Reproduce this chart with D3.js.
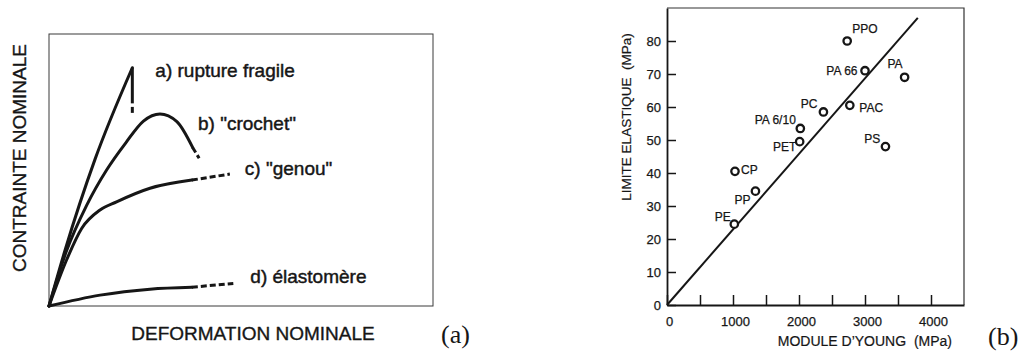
<!DOCTYPE html>
<html><head><meta charset="utf-8">
<script src="https://cdn.jsdelivr.net/npm/d3@7"></script>
<style>
body{margin:0;background:#fff}
svg{display:block}
text{font-family:"Liberation Sans",Arial,Helvetica,sans-serif;fill:#161616;white-space:pre}
</style>
</head><body>
<svg id="chart" width="1023" height="356"></svg>
<script>
// ---------- Panel (a) : schematic stress-strain curves (arbitrary units 0-100) ----------
const curveLabels = ['a) rupture fragile', 'b) "crochet"', 'c) "genou"', 'd) élastomère'];
const curveA      = [[0,0],[4.2,20.6],[12,54],[21.7,87.6]];
const curveADrop  = [[21.7,87.6],[21.7,74.5]];
const curveADash  = [[21.7,73.2],[21.7,71.0]];
const curveB      = [[0,0],[4.5,20],[9.8,37],[15,50],[20,60],[24.6,68],[28.9,70.6],[33.3,67.8],[37.4,58.3]];
const curveBDash  = [[37.4,58.3],[39.1,54.3]];
const curveC      = [[0,0],[4.6,17],[8.5,28.5],[13.3,35.3],[17.6,38.3],[26.3,43.3],[37.2,46.3]];
const curveCDash  = [[37.2,46.3],[47.1,48.5]];
const curveD      = [[0,0],[13.3,4.0],[26.3,6.2],[37.2,6.9]];
const curveDDash  = [[37.2,6.9],[48,8.3]];
const axisTitleAX = 'DEFORMATION NOMINALE';
const axisTitleAY = 'CONTRAINTE NOMINALE';

// ---------- Panel (b) : yield stress vs Young's modulus ----------
const materials   = ['PPO','PA 66','PA','PAC','PC','PA 6/10','PET','PS','CP','PP','PE'];
const modulus     = [2730, 3000, 3600, 2770, 2370, 2020, 2010, 3310, 1030, 1340, 1020];
const yieldStress = [80, 71, 69, 60.5, 58.5, 53.5, 49.5, 48, 40.5, 34.5, 24.5];
const trendX      = [0, 3800];
const trendY      = [0, 87];
const xTicks      = [0,500,1000,1500,2000,2500,3000,3500,4000];
const xTickLabels = ['0','','1000','','2000','','3000','','4000'];
const yTicks      = [0,10,20,30,40,50,60,70,80];
const yTickLabels = ['0','10','20','30','40','50','60','70','80'];
const axisTitleBX = "MODULE D\u2019YOUNG  (MPa)";
const axisTitleBY = 'LIMITE ELASTIQUE  (MPa)';

const svg = d3.select('#chart');
const ink = '#161616';

// ===== Panel (a) =====
const ax = d3.scaleLinear().domain([0,100]).range([49,433]);
const ay = d3.scaleLinear().domain([0,100]).range([306,34]);
const ga = svg.append('g');
ga.append('rect').attr('x',ax(0)).attr('y',ay(100)).attr('width',ax(100)-ax(0)).attr('height',ay(0)-ay(100))
  .attr('fill','none').attr('stroke','#3a3a3a').attr('stroke-width',1);

const lineSmooth = d3.line().x(d=>ax(d[0])).y(d=>ay(d[1])).curve(d3.curveMonotoneX);
const lineStraight = d3.line().x(d=>ax(d[0])).y(d=>ay(d[1]));
[curveA, curveB, curveC, curveD].forEach(c=>{
  ga.append('path').attr('d',lineSmooth(c)).attr('fill','none').attr('stroke',ink)
    .attr('stroke-width',3).attr('stroke-linecap','round').attr('stroke-linejoin','round');
});
ga.append('path').attr('d',lineStraight(curveADrop)).attr('fill','none').attr('stroke',ink).attr('stroke-width',3);
ga.append('path').attr('d',lineStraight(curveADash)).attr('fill','none').attr('stroke',ink).attr('stroke-width',3);
[curveBDash, curveCDash, curveDDash].forEach(c=>{
  ga.append('path').attr('d',lineStraight(c)).attr('fill','none').attr('stroke',ink)
    .attr('stroke-width',3).attr('stroke-dasharray','6,3');
});
// curve labels (placed to the right of each curve's end)
const labelAnchors = [curveA[curveA.length-1], curveB[6], curveCDash[1], curveDDash[1]];
const labelOffsets = [[23,9],[38,16],[15,1],[17,0]];
curveLabels.forEach((t,i)=>{
  ga.append('text').attr('x',ax(labelAnchors[i][0])+labelOffsets[i][0])
    .attr('y',ay(labelAnchors[i][1])+labelOffsets[i][1])
    .attr('font-size',19).attr('stroke',ink).attr('stroke-width',0.45).text(t);
});
ga.append('text').attr('x',(ax(0)+ax(100))/2+12).attr('y',340).attr('text-anchor','middle')
  .attr('font-size',19).attr('stroke',ink).attr('stroke-width',0.35).text(axisTitleAX);
ga.append('text').attr('transform','translate(26,158) rotate(-90)').attr('text-anchor','middle')
  .attr('font-size',19).attr('stroke',ink).attr('stroke-width',0.35).text(axisTitleAY);
svg.append('text').attr('x',441).attr('y',343).attr('font-size',26)
  .style('font-family','"Liberation Serif","Times New Roman",serif').text('(a)');

// ===== Panel (b) =====
const bx = d3.scaleLinear().domain([0,4500]).range([667,964]);
const by = d3.scaleLinear().domain([0,90]).range([305,8]);
const gb = svg.append('g');
// top & right frame
gb.append('path').attr('d',`M${bx(0)},${by(90)}H${bx(4500)}V${by(0)}`).attr('fill','none')
  .attr('stroke','#333').attr('stroke-width',1.2);

const xAxis = d3.axisBottom(bx).tickValues(xTicks).tickSizeInner(-10).tickSizeOuter(0).tickPadding(12)
  .tickFormat((d,i)=>xTickLabels[i]);
const yAxis = d3.axisLeft(by).tickValues(yTicks).tickSizeInner(-9).tickSizeOuter(0).tickPadding(6)
  .tickFormat((d,i)=>yTickLabels[i]);
const gx = gb.append('g').attr('transform',`translate(0,${by(0)})`).call(xAxis);
const gy = gb.append('g').attr('transform',`translate(${bx(0)},0)`).call(yAxis);
[gx,gy].forEach(g=>{
  g.select('.domain').attr('stroke',ink).attr('stroke-width',1.8);
  g.selectAll('.tick line').attr('stroke',ink).attr('stroke-width',1.5);
  g.selectAll('.tick text').attr('font-size',13).attr('fill',ink)
    .attr('stroke',ink).attr('stroke-width',0.25)
    .style('font-family','"Liberation Sans",Arial,sans-serif');
});
gx.selectAll('.tick text').attr('dx',2);

// trend line
gb.append('line').attr('x1',bx(trendX[0])).attr('y1',by(trendY[0]))
  .attr('x2',bx(trendX[1])).attr('y2',by(trendY[1]))
  .attr('stroke',ink).attr('stroke-width',2);

// points
const pts = materials.map((m,i)=>({name:m, x:modulus[i], y:yieldStress[i]}));
gb.selectAll('circle.pt').data(pts).join('circle').attr('class','pt')
  .attr('cx',d=>bx(d.x)).attr('cy',d=>by(d.y)).attr('r',3.7)
  .attr('fill','#fff').attr('stroke',ink).attr('stroke-width',2.3);

// label placement (layout only)
const labelLayout = {
  'PPO':[5,-8.5,'start'], 'PA 66':[-7.5,4,'end'], 'PA':[-2,-9,'end'], 'PAC':[9.5,7,'start'],
  'PC':[-6,-3.5,'end'], 'PA 6/10':[-4.5,-4.7,'end'], 'PET':[-3.3,9.7,'end'], 'PS':[-5.3,-4,'end'],
  'CP':[6,2.7,'start'], 'PP':[-5,13,'end'], 'PE':[-3.6,-3.6,'end']
};
gb.selectAll('text.pl').data(pts).join('text').attr('class','pl')
  .attr('x',d=>bx(d.x)+labelLayout[d.name][0]).attr('y',d=>by(d.y)+labelLayout[d.name][1])
  .attr('text-anchor',d=>labelLayout[d.name][2]).attr('font-size',12)
  .attr('stroke',ink).attr('stroke-width',0.25).text(d=>d.name);

gb.append('text').attr('x',952).attr('y',346).attr('text-anchor','end').attr('font-size',14)
  .attr('stroke',ink).attr('stroke-width',0.2).text(axisTitleBX);
gb.append('text').attr('transform','translate(631,117) rotate(-90)').attr('text-anchor','middle')
  .attr('font-size',13.5).attr('stroke',ink).attr('stroke-width',0.2).text(axisTitleBY);
svg.append('text').attr('x',988).attr('y',345).attr('font-size',26)
  .style('font-family','"Liberation Serif","Times New Roman",serif').text('(b)');
</script>
</body></html>
